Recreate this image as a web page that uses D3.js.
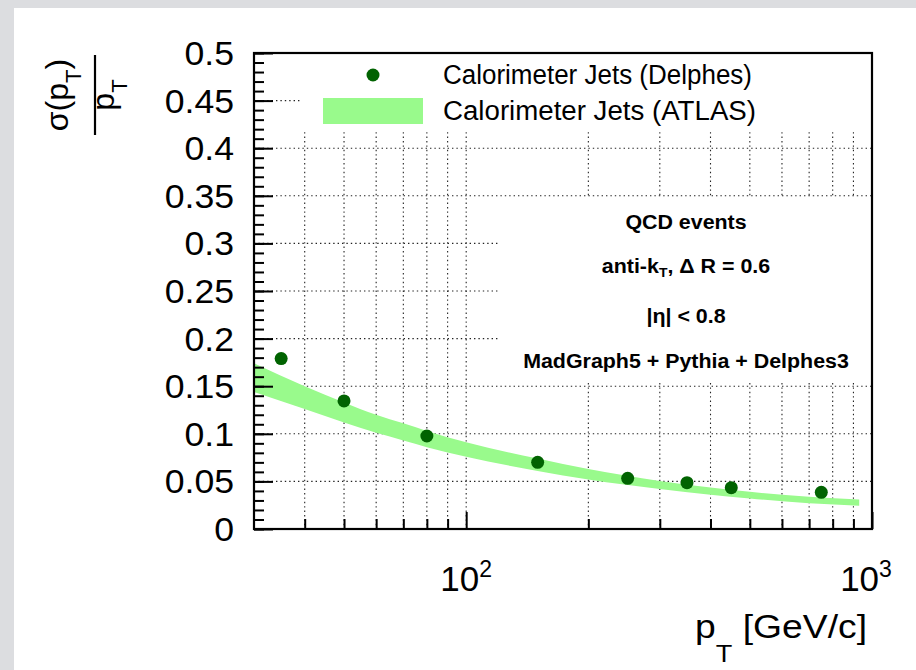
<!DOCTYPE html>
<html><head><meta charset="utf-8">
<script src="https://cdn.jsdelivr.net/npm/d3@7"></script>
<style>
body{margin:0;background:#fff}
text{font-family:"Liberation Sans",Arial,Helvetica,sans-serif;fill:#000}
</style>
</head><body><svg id="c" width="916" height="670"></svg>
<script>
// ---------- data ----------
const delphesPt  = [35, 50, 80, 150, 250, 350, 450, 750];
const delphesRes = [0.179, 0.1345, 0.0977, 0.070, 0.0532, 0.0487, 0.0434, 0.0385];

const atlasPt   = [30, 40, 50, 60, 70, 80, 100, 150, 200, 300, 400, 500, 700, 930];
const atlasHigh = [0.174, 0.150, 0.133, 0.120, 0.111, 0.103, 0.091, 0.074, 0.063, 0.0505, 0.0435, 0.039, 0.034, 0.031];
const atlasLow  = [0.144, 0.126, 0.112, 0.101, 0.093, 0.086, 0.076, 0.061, 0.052, 0.042, 0.036, 0.032, 0.027, 0.0245];

const yTicks      = [0, 0.05, 0.1, 0.15, 0.2, 0.25, 0.3, 0.35, 0.4, 0.45, 0.5];
const yTickLabels = ["0", "0.05", "0.1", "0.15", "0.2", "0.25", "0.3", "0.35", "0.4", "0.45", "0.5"];
const xMajorTicks = [100, 1000];
const xMajorBase  = ["10", "10"];
const xMajorExp   = ["2", "3"];
const xMinorTicks = [40, 50, 60, 70, 80, 90, 200, 300, 400, 500, 600, 700, 800, 900];

const legendLabels = ["Calorimeter Jets (Delphes)", "Calorimeter Jets (ATLAS)"];
const notes = ["QCD events", "anti-k_T, \u0394 R = 0.6", "|\u03b7| < 0.8", "MadGraph5 + Pythia + Delphes3"];

// ---------- setup ----------
const W = 916, H = 670;
const svg = d3.select("#c");
svg.append("rect").attr("width", W).attr("height", H).attr("fill", "#dcdde0");
svg.append("rect").attr("x", 14).attr("y", 8).attr("width", W - 14).attr("height", H - 8).attr("fill", "#fff");

const m = {l: 254, r: 872, t: 53, b: 529};
const x = d3.scaleLog().domain([30, 1000]).range([m.l, m.r]);
const y = d3.scaleLinear().domain([0, 0.5]).range([m.b, m.t]);

const bandColor = "#99fa8c";
const dotColor = "#016301";

// ---------- grid ----------
const grid = svg.append("g").attr("stroke", "#222").attr("stroke-width", 1.1).attr("stroke-dasharray", "1.4,3");
grid.selectAll("line.v").data(xMinorTicks.concat([100])).join("line")
  .attr("x1", d => x(d)).attr("x2", d => x(d)).attr("y1", m.t).attr("y2", m.b);
grid.selectAll("line.h").data(yTicks.slice(1, -1)).join("line")
  .attr("y1", d => y(d)).attr("y2", d => y(d)).attr("x1", m.l).attr("x2", m.r);

// ---------- band ----------
const bandData = atlasPt.map((p, i) => ({p, lo: atlasLow[i], hi: atlasHigh[i]}));
svg.append("path").datum(bandData)
  .attr("fill", bandColor)
  .attr("d", d3.area().x(d => x(d.p)).y0(d => y(d.lo)).y1(d => y(d.hi)).curve(d3.curveMonotoneX));

// ---------- points ----------
svg.append("g").selectAll("circle").data(delphesPt).join("circle")
  .attr("cx", d => x(d)).attr("cy", (d, i) => y(delphesRes[i])).attr("r", 6.5).attr("fill", dotColor);

// ---------- legend & text boxes (cover grid) ----------
svg.append("rect").attr("x", 300).attr("y", m.t).attr("width", m.r - 300).attr("height", 130 - m.t).attr("fill", "#fff");
svg.append("rect").attr("x", 500).attr("y", 198).attr("width", m.r - 500).attr("height", 383 - 198).attr("fill", "#fff");

svg.append("circle").attr("cx", 373).attr("cy", 75).attr("r", 6.5).attr("fill", dotColor);
svg.append("rect").attr("x", 323).attr("y", 98).attr("width", 100).attr("height", 26).attr("fill", bandColor);
legendLabels.forEach((t, i) => {
  svg.append("text").attr("x", 443).attr("y", [84, 120][i]).attr("font-size", 27)
    .attr("textLength", [309, 313][i]).attr("lengthAdjust", "spacingAndGlyphs").text(t);
});

// notes
function note(yb, build, sx) {
  const t = svg.append("text").attr("transform", `translate(686,${yb}) scale(${sx},1)`)
    .attr("text-anchor", "middle").attr("font-size", 20).attr("font-weight", "bold");
  build(t);
}
note(229, t => t.text(notes[0]), 1.07);
note(273, t => {
  t.append("tspan").text("anti-k");
  t.append("tspan").attr("font-size", 13).attr("dy", 4).text("T");
  t.append("tspan").attr("dy", -4).text(", \u0394 R = 0.6");
}, 1.07);
note(323, t => t.text(notes[2]), 1.07);
note(368, t => t.text(notes[3]), 1.07);

// ---------- frame & axes ticks ----------
svg.append("g").attr("transform", `translate(${m.l},0)`)
  .call(d3.axisLeft(y).tickValues(d3.range(0, 0.5001, 0.01)).tickSize(-10).tickFormat(""))
  .call(g => g.select(".domain").remove())
  .call(g => g.selectAll("line").attr("stroke", "#000").attr("stroke-width", 2));
svg.append("g").attr("transform", `translate(${m.l},0)`)
  .call(d3.axisLeft(y).tickValues(yTicks).tickSize(-19).tickFormat(""))
  .call(g => g.select(".domain").remove())
  .call(g => g.selectAll("line").attr("stroke", "#000").attr("stroke-width", 2));
svg.append("g").attr("transform", `translate(0,${m.b})`)
  .call(d3.axisBottom(x).tickValues(xMinorTicks).tickSize(-10).tickFormat(""))
  .call(g => g.select(".domain").remove())
  .call(g => g.selectAll("line").attr("stroke", "#000").attr("stroke-width", 2));
svg.append("g").attr("transform", `translate(0,${m.b})`)
  .call(d3.axisBottom(x).tickValues(xMajorTicks).tickSize(-17).tickFormat(""))
  .call(g => g.select(".domain").remove())
  .call(g => g.selectAll("line").attr("stroke", "#000").attr("stroke-width", 2));

svg.append("rect").attr("x", m.l).attr("y", m.t).attr("width", m.r - m.l).attr("height", m.b - m.t)
  .attr("fill", "none").attr("stroke", "#000").attr("stroke-width", 2.2);

// y tick labels
yTicks.forEach((v, i) => {
  svg.append("text").attr("transform", `translate(234,${y(v) + 12}) scale(1.08,1)`)
    .attr("text-anchor", "end").attr("font-size", 33).text(yTickLabels[i]);
});
// x tick labels
xMajorTicks.forEach((v, i) => {
  const t = svg.append("text").attr("x", x(v) - (i === 1 ? 6 : 0)).attr("y", 591)
    .attr("text-anchor", "middle").attr("font-size", 35);
  t.append("tspan").text(xMajorBase[i]);
  t.append("tspan").attr("font-size", 23).attr("dy", -14).text(xMajorExp[i]);
});

// x title
{
  const t = svg.append("text").attr("transform", "translate(867,638) scale(1.13,1)")
    .attr("text-anchor", "end").attr("font-size", 33);
  t.append("tspan").text("p");
  t.append("tspan").attr("font-size", 24).attr("dy", 24).text("T");
  t.append("tspan").attr("dy", -24).text(" [GeV/c]");
}

// y title (fraction)
{
  const g = svg.append("g").attr("transform", "translate(95,95) rotate(-90)");
  g.append("line").attr("x1", -40).attr("x2", 40).attr("y1", 0).attr("y2", 0).attr("stroke", "#000").attr("stroke-width", 2.2);
  const n = g.append("text").attr("x", 0).attr("y", -27).attr("text-anchor", "middle").attr("font-size", 32);
  n.append("tspan").text("\u03c3(p");
  n.append("tspan").attr("font-size", 22).attr("dy", 13).text("T");
  n.append("tspan").attr("dy", -13).text(")");
  const d = g.append("text").attr("x", 0).attr("y", 19).attr("text-anchor", "middle").attr("font-size", 32);
  d.append("tspan").text("p");
  d.append("tspan").attr("font-size", 22).attr("dy", 13).text("T");
}
</script>
</body></html>
